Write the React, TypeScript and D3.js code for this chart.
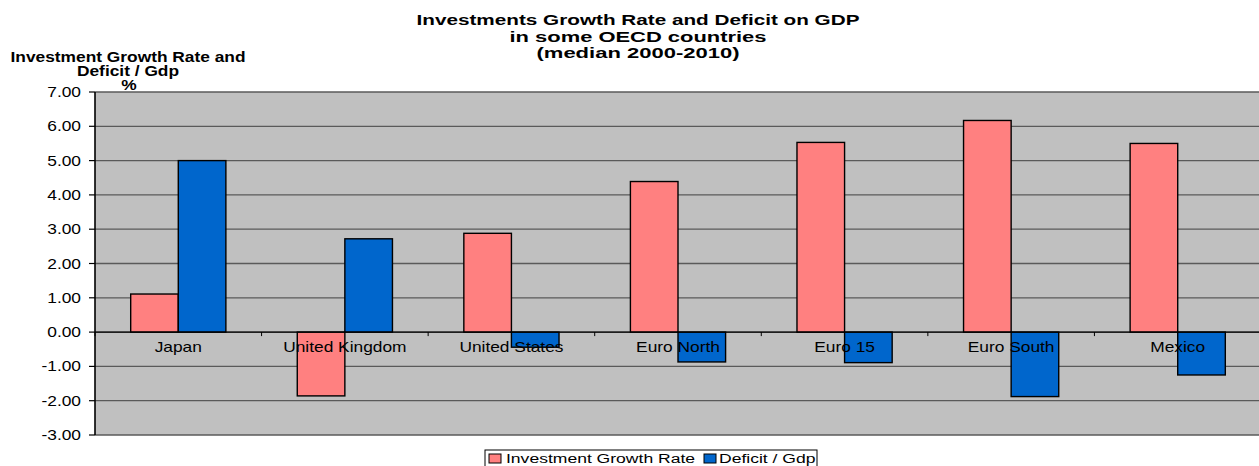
import React from "react";
import * as d3 from "d3";

const categories = ["Japan", "United Kingdom", "United States", "Euro North", "Euro 15", "Euro South", "Mexico"];
const investmentGrowth = [1.11, -1.86, 2.88, 4.39, 5.53, 6.17, 5.5];
const deficitGdp = [5.0, 2.72, -0.44, -0.87, -0.89, -1.88, -1.25];
const yTicks = [7, 6, 5, 4, 3, 2, 1, 0, -1, -2, -3];
const seriesNames = ["Investment Growth Rate", "Deficit / Gdp"];
const titleLines = ["Investments Growth Rate and Deficit on GDP", "in some OECD countries", "(median 2000-2010)"];
const yLabelLines = ["Investment Growth Rate and", "Deficit / Gdp", "%"];

const W = 1259;
const H = 466;
const FONT = "'Liberation Sans', Arial, Helvetica, sans-serif";
const SX = 1.24;
const COLORS = ["#FF8080", "#0066CC"];

function SText(props: { x: number; y: number; anchor?: string; size?: number; bold?: boolean; sx?: number; children: any }) {
  const { x, y, anchor = "middle", size = 14, bold = false, sx = SX, children } = props;
  return (
    <text
      transform={`translate(${x},${y}) scale(${sx},1)`}
      textAnchor={anchor}
      fontFamily={FONT}
      fontSize={size}
      fontWeight={bold ? "bold" : "normal"}
      fill="#000"
    >
      {children}
    </text>
  );
}

export default function App() {
  const left = 95;
  const right = 1261;
  const top = 92;
  const bottom = 435;

  const y = d3.scaleLinear().domain([-3, 7]).range([bottom, top]);
  const x = d3.scaleBand<string>().domain(categories).range([left, right]).padding(0);
  const b = x.bandwidth();
  const w = b / 3.5;
  const xs = d3.scaleBand<number>().domain([0, 1]).range([0.75 * w, b - 0.75 * w]).padding(0);
  const series = [investmentGrowth, deficitGdp];

  const titleLens = [443, 257, 203];
  const titleYs = [25, 42, 58];

  return (
    <svg width={W} height={H} style={{ position: "absolute", left: 0, top: 0, background: "#fff" }}>
      {/* plot background */}
      <rect x={left} y={top} width={right - left} height={bottom - top} fill="#C0C0C0" />
      {/* gridlines */}
      {yTicks.map((t) => (
        <line key={"g" + t} x1={left} x2={right} y1={y(t)} y2={y(t)} stroke="#5a5a5a" strokeWidth={1.3} />
      ))}
      {/* bars */}
      {series.map((vals, si) =>
        categories.map((c, i) => {
          const v = vals[i];
          const x0 = (x(c) as number) + (xs(si) as number);
          const y0 = Math.min(y(v), y(0));
          const h = Math.abs(y(v) - y(0));
          return (
            <rect key={si + "-" + c} x={x0} y={y0} width={xs.bandwidth()} height={h} fill={COLORS[si]} stroke="#000" strokeWidth={1.4} />
          );
        })
      )}
      {/* zero line */}
      <line x1={left} x2={right} y1={y(0)} y2={y(0)} stroke="#000" strokeWidth={1.3} />
      {/* category ticks */}
      {categories.map((c, i) => (
        <line key={"ct" + i} x1={x(c) as number} x2={x(c) as number} y1={y(0)} y2={y(0) + 4} stroke="#000" strokeWidth={1} />
      ))}
      {/* left axis */}
      <line x1={left} x2={left} y1={top} y2={bottom} stroke="#000" strokeWidth={1.6} />
      {yTicks.map((t) => (
        <g key={"t" + t}>
          <line x1={left - 6} x2={left} y1={y(t)} y2={y(t)} stroke="#000" strokeWidth={1.2} />
          <SText x={81} y={y(t) + 5} anchor="end">{t.toFixed(2)}</SText>
        </g>
      ))}
      {/* category labels */}
      {categories.map((c) => (
        <SText key={"cl" + c} x={(x(c) as number) + b / 2} y={352}>{c}</SText>
      ))}
      {/* title */}
      {titleLines.map((l, i) => (
        <text
          key={"ti" + i}
          x={638}
          y={titleYs[i]}
          textAnchor="middle"
          fontFamily={FONT}
          fontSize={14.5}
          fontWeight="bold"
          textLength={titleLens[i]}
          lengthAdjust="spacingAndGlyphs"
        >
          {l}
        </text>
      ))}
      {/* y axis label */}
      <SText x={128} y={62} bold>{yLabelLines[0]}</SText>
      <SText x={128} y={76} bold>{yLabelLines[1]}</SText>
      <SText x={129} y={90} bold>{yLabelLines[2]}</SText>
      {/* legend */}
      <rect x={485} y={450} width={332} height={22} fill="#fff" stroke="#000" strokeWidth={1} />
      <rect x={489} y={454} width={12} height={9} fill={COLORS[0]} stroke="#000" strokeWidth={1} />
      <SText x={506} y={463} anchor="start" size={13.5} sx={1.3}>{seriesNames[0]}</SText>
      <rect x={704} y={454} width={12} height={9} fill={COLORS[1]} stroke="#000" strokeWidth={1} />
      <SText x={719} y={463} anchor="start" size={13.5} sx={1.3}>{seriesNames[1]}</SText>
    </svg>
  );
}
